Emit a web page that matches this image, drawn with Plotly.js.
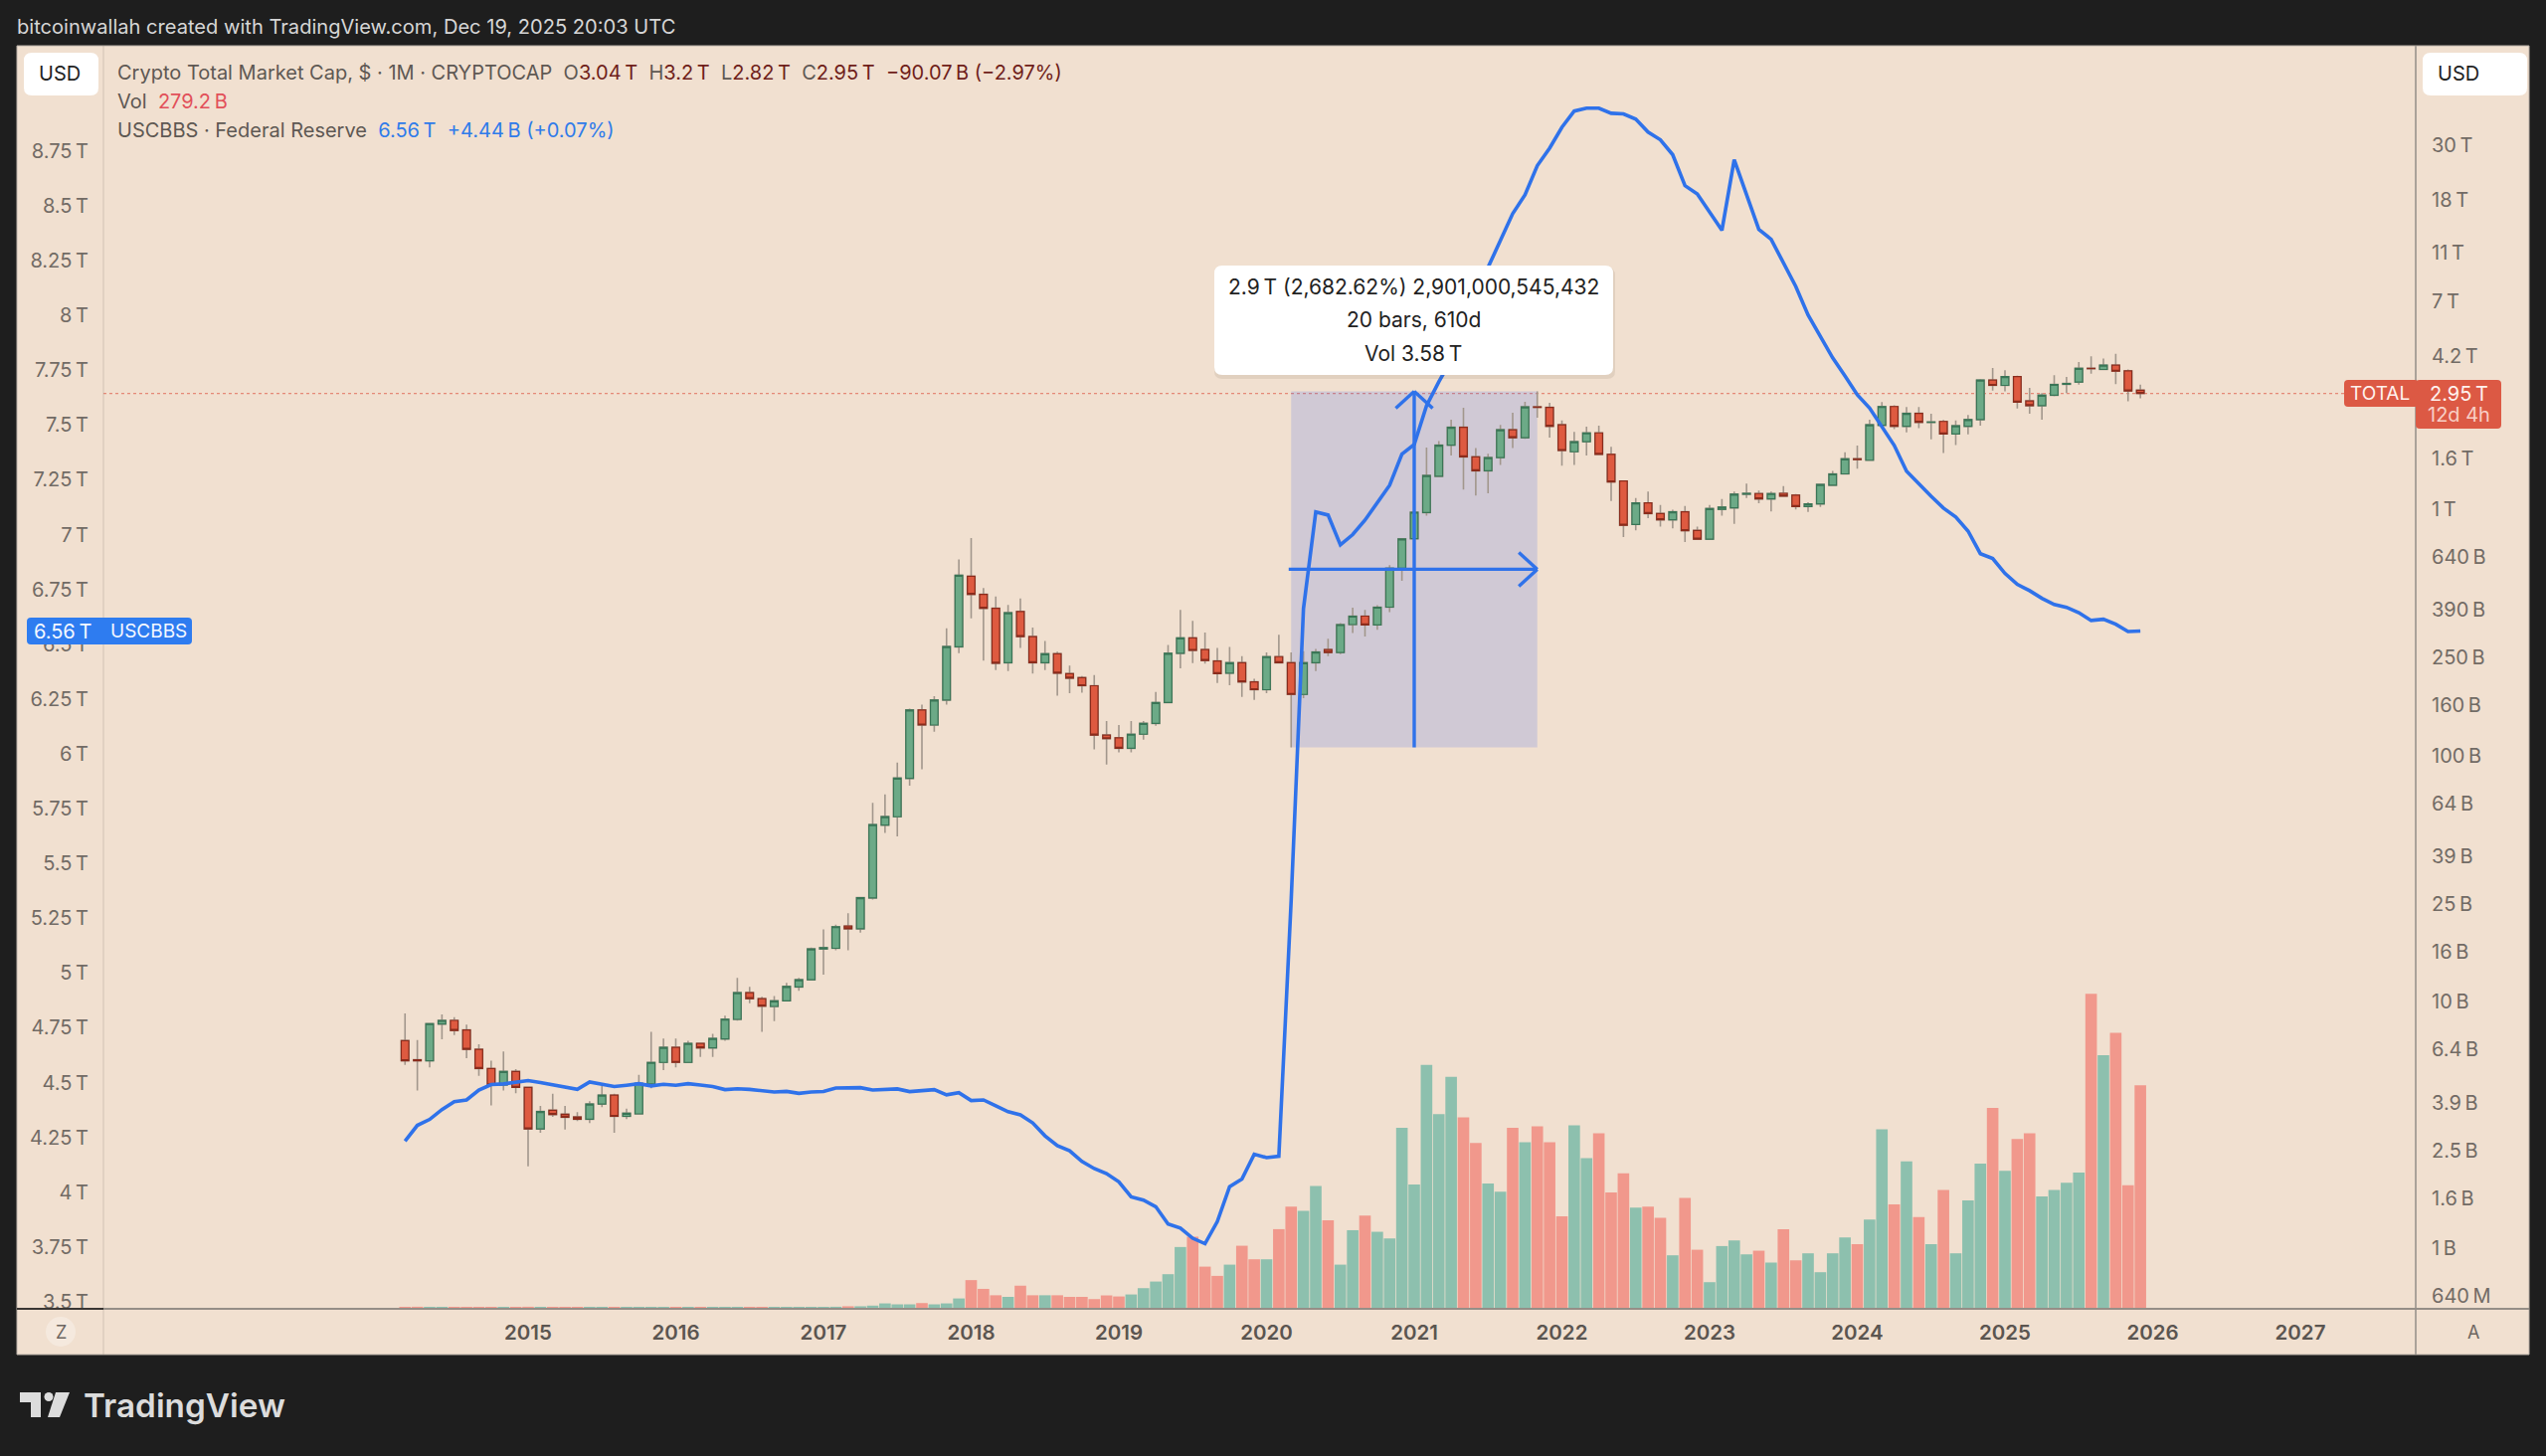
<!DOCTYPE html>
<html>
<head>
<meta charset="utf-8">
<script src="https://cdn.plot.ly/plotly-3.0.1.min.js"></script>
<style>html,body{margin:0;padding:0;background:#1e1e1e;}#chart{width:2560px;height:1464px;}</style>
</head>
<body>
<div id="chart"></div>
<script>
// Bars are monthly, first bar is Mar 2014. Bar index 0 = Jan 2015. Prices and volume in billions USD.
const firstBarIndex = -10;

const open = [6.96,5.82,5.77,8.13,8.41,7.69,6.42,5.36,4.6,5.22,
4.5,3.05,3.63,3.5,3.41,3.34,3.85,4.18,3.43,3.51,4.65,5.68,
6.54,5.68,6.78,6.5,7.07,8.49,10.9,10.3,9.58,10.1,11.5,12.3,
16.4,16.5,20.3,19.8,26.4,52.2,56.4,80.8,153,133,168,276,
534,451,396,238,384,304,238,259,215,207,192,121,
118,107,122,135,164,260,300,269,242,216,238,199,
185,252,238,177,238,269,262,340,368,339,400,576,
759,969,1360,1820,2150,1630,1430,1620,2100,1950,2600,2590,
2200,1710,1880,2040,1670,1300,867,1060,960,905,975,820,
755,997,1012,1150,1157,1100,1160,1140,1025,1050,1250,1390,
1600,1580,2190,2610,2170,2450,2250,2270,2020,2170,2310,3340,
3180,3450,2750,2630,2900,3210,3280,3730,3690,3840,3640,3040];

const high = [8.97,7.0,8.21,8.9,8.67,8.08,6.73,5.77,6.29,5.33,
4.5,3.78,4.24,3.78,3.57,3.95,4.57,4.24,3.69,5.05,7.55,7.1,
7.1,6.95,6.8,7.41,8.8,12.5,11.5,10.5,10.55,11.95,12.5,16.6,
19.7,20.6,22.9,26.7,64.2,69.5,93.7,155,161,174,328,625,
764,478,442,409,434,331,292,264,232,210,212,138,
133,138,138,181,281,390,352,316,273,276,253,205,
262,309,262,265,271,298,345,398,390,408,593,764,
980,1780,1890,2310,2580,1770,1680,2200,2460,2730,3009,2700,
2290,2060,2160,2180,1790,1310,1110,1180,1040,994,1030,850,
1040,1100,1180,1270,1190,1180,1240,1153,1067,1270,1430,1700,
1810,2310,2720,2640,2600,2600,2440,2300,2290,2410,3370,3740,
3660,3480,3110,2960,3500,3440,3960,4170,4090,4270,3690,3200];

const low = [5.55,4.37,5.42,7.05,7.34,5.91,5.01,3.8,4.37,4.26,
2.15,2.94,3.41,3.03,3.28,3.22,3.74,2.94,3.34,3.51,4.46,5.29,
5.42,5.65,5.98,5.98,6.95,8.39,9.88,7.55,8.36,10.07,11.1,12.25,
12.9,16.2,16.2,19.1,26,48.5,47,75.5,88,125,161,260,
360,243,222,220,273,215,222,175,179,180,106,92,
103,103,116,132,164,226,237,236,197,193,173,168,
179,237,108,171,220,253,258,314,304,324,382,512,
759,942,1355,1650,1200,1135,1160,1510,1770,1930,2350,1950,
1500,1510,1650,1665,1080,770,820,920,850,835,735,752,
752,942,872,1110,1057,978,1127,997,975,1020,1240,1385,
1460,1570,2185,2110,2050,2130,1920,1690,1820,2010,2180,3030,
3010,2560,2440,2310,2870,2960,3200,3550,3660,3220,2740,2820];

const close = [5.77,5.77,8.16,8.41,7.65,6.42,5.36,4.6,5.22,4.5,
3.05,3.59,3.49,3.4,3.34,3.85,4.18,3.43,3.53,4.67,5.68,6.54,
5.68,6.78,6.5,7.1,8.51,10.9,10.3,9.61,10.1,11.55,12.3,16.4,
16.6,20.2,19.8,26.5,52.4,56.5,81,153,133,168,277,539,
451,396,237,380,304,238,259,216,206,192,121,117,
107,122,135,164,260,300,267,243,215,238,199,185,
252,238,177,238,263,262,340,368,339,400,576,757,
972,1370,1820,2150,1630,1430,1620,2100,1950,2600,2590,2170,
1730,1880,2040,1670,1290,860,1060,960,905,975,818,755,
1006,1020,1150,1160,1100,1157,1130,1025,1050,1260,1390,1600,
1590,2200,2610,2170,2450,2250,2260,2020,2180,2310,3340,3180,
3450,2720,2630,2900,3210,3240,3730,3720,3840,3630,3020,2950];

const volume = [1.2,1.6,1.4,1.1,1.5,1.3,1.4,1.3,1.1,1.4,
1.6,1.2,1.1,1.0,1.0,1.1,1.0,1.4,1.2,1.3,1.4,1.3,
1.5,1.2,1.1,1.2,1.1,1.4,1.5,1.3,1.1,1.2,1.2,1.3,
1.5,1.6,2.2,2.2,3.0,5.8,4.6,4.6,6.2,4.6,5.8,12,
35,24,16,14,28,16,16,16,14,14,11.2,15.8,
14.5,17,24.9,33.2,42.4,76.5,89.3,51.9,40.3,54.4,78.1,61.1,
61.1,98.9,127,122,153,110,54.4,97.6,116,95.6,87.3,226,
155,305,243,290,239,207,156,146,226,208,228,208,
115,229,188,219,145,169,126,127,113,66.1,138,73.1,
32.4,77.7,84.8,67.3,71.9,57,98.9,59.8,68.6,44.9,68.6,88.5,
80.2,111,224,130,184,114,80.2,148,68.6,135,181,251,
172,212,219,140,148,157,170,394,317,345,154,279.2];

// Federal Reserve balance sheet (USCBBS), trillions USD
const fedBalance = [4.233,4.305,4.332,4.377,4.413,4.421,4.466,4.491,4.494,4.501,
4.509,4.500,4.491,4.479,4.469,4.503,4.492,4.482,4.488,4.495,4.485,4.492,
4.488,4.495,4.489,4.482,4.468,4.472,4.469,4.463,4.457,4.460,4.451,4.457,
4.459,4.475,4.475,4.477,4.466,4.469,4.471,4.459,4.462,4.468,4.444,4.454,
4.418,4.421,4.394,4.367,4.353,4.316,4.257,4.212,4.189,4.140,4.108,4.085,
4.047,3.979,3.964,3.934,3.855,3.836,3.790,3.765,3.866,4.025,4.060,4.173,
4.158,4.164,5.33,6.662,7.103,7.089,6.953,7.0,7.066,7.145,7.225,7.367,
7.411,7.588,7.697,7.797,7.934,8.078,8.219,8.343,8.464,8.55,8.683,8.763,
8.858,8.932,8.945,8.945,8.922,8.919,8.895,8.836,8.801,8.733,8.592,8.554,
8.473,8.388,8.71,8.554,8.392,8.347,8.237,8.132,8.002,7.906,7.806,7.724,
7.638,7.577,7.493,7.407,7.289,7.23,7.175,7.121,7.08,7.016,6.913,6.891,
6.823,6.773,6.744,6.709,6.681,6.668,6.644,6.608,6.614,6.591,6.558,6.56];

const yearTickIndex = [0,12,24,36,48,60,72,84,96,108,120,132,144];
const yearTickLabels = ['2015','2016','2017','2018','2019','2020','2021','2022','2023','2024','2025','2026','2027'];

const leftTickValues = [3.5,3.75,4,4.25,4.5,4.75,5,5.25,5.5,5.75,6,6.25,6.5,6.75,7,7.25,7.5,7.75,8,8.25,8.5,8.75];
const leftTickLabels = leftTickValues.map(v => String(v) + '\u2009T');

const rightTickValues = [30000,18000,11000,7000,4200,1600,1000,640,390,250,160,100,64,39,25,16,10,6.4,3.9,2.5,1.6,1,0.64];
const rightTickLabels = ['30\u2009T','18\u2009T','11\u2009T','7\u2009T','4.2\u2009T','1.6\u2009T','1\u2009T','640\u2009B','390\u2009B','250\u2009B','160\u2009B','100\u2009B','64\u2009B','39\u2009B','25\u2009B','16\u2009B','10\u2009B','6.4\u2009B','3.9\u2009B','2.5\u2009B','1.6\u2009B','1\u2009B','640\u2009M'];

// Measuring tool read-out
const measureStartIndex = 62, measureEndIndex = 82, measureLow = 108, measureHigh = 3009;
const lastClose = 2950;

const W = 2560, H = 1464, L = 104, R = 2429, T = 46, B = 1316;
const px = v => (v - L) / (R - L);
const py = v => 1 - (v - T) / (B - T);
const FONT = 'Inter, Roboto, sans-serif';
const BLUE = '#2f72ea', RED_TAG = '#dc5944', BG = '#f1e0d0', DARK = '#1e1e1e', AXTXT = '#726b65';

const xs = close.map((_, i) => firstBarIndex + i);
const bodyHigh = close.map((c, i) => Math.max(c, open[i]));
const bodyLow = close.map((c, i) => Math.min(c, open[i]));
const volColors = close.map((c, i) => c >= open[i] ? '#8dc0ae' : '#f1988c');

const traces = [
  {type:'bar', x:xs, y:volume, xaxis:'x', yaxis:'y', marker:{color:volColors, line:{width:0}}, hoverinfo:'skip'},
  {type:'candlestick', x:xs, open:open, high:high, low:low, close:close, xaxis:'x', yaxis:'y2', whiskerwidth:0,
   increasing:{line:{color:'#a2978c', width:1.6}, fillcolor:'#6caa87'},
   decreasing:{line:{color:'#a2978c', width:1.6}, fillcolor:'#de5a40'}, hoverinfo:'skip'},
  {type:'candlestick', x:xs, open:open, high:bodyHigh, low:bodyLow, close:close, xaxis:'x', yaxis:'y2', whiskerwidth:0,
   increasing:{line:{color:'#3a7556', width:1.2}, fillcolor:'#6caa87'},
   decreasing:{line:{color:'#8a2c1c', width:1.2}, fillcolor:'#de5a40'}, hoverinfo:'skip'},
  {type:'scatter', mode:'lines', x:xs, y:fedBalance, xaxis:'x', yaxis:'y3', line:{color:BLUE, width:3.6}, hoverinfo:'skip'}
];

// --- static page furniture, given in page pixels ---
function pxRect(x0, y0, x1, y1, opts) {
  return Object.assign({type:'rect', xref:'paper', yref:'paper', x0:px(x0), x1:px(x1), y0:py(y0), y1:py(y1), line:{width:0}}, opts);
}
function pxLine(x0, y0, x1, y1, color, width, layer) {
  return {type:'line', xref:'paper', yref:'paper', x0:px(x0), x1:px(x1), y0:py(y0), y1:py(y1), line:{color:color, width:width}, layer:layer || 'above'};
}
function rounded(x0, y0, x1, y1, r, fill, layer) {
  const X = px, Y = py;
  const d = `M${X(x0+r)},${Y(y0)} L${X(x1-r)},${Y(y0)} Q${X(x1)},${Y(y0)} ${X(x1)},${Y(y0+r)} L${X(x1)},${Y(y1-r)} Q${X(x1)},${Y(y1)} ${X(x1-r)},${Y(y1)} L${X(x0+r)},${Y(y1)} Q${X(x0)},${Y(y1)} ${X(x0)},${Y(y1-r)} L${X(x0)},${Y(y0+r)} Q${X(x0)},${Y(y0)} ${X(x0+r)},${Y(y0)} Z`;
  return {type:'path', xref:'paper', yref:'paper', path:d, fillcolor:fill, line:{width:0}, layer:layer || 'above'};
}
function poly(points, fill) {
  const d = points.map((p, i) => (i ? 'L' : 'M') + px(p[0]) + ',' + py(p[1])).join(' ') + ' Z';
  return {type:'path', xref:'paper', yref:'paper', path:d, fillcolor:fill, line:{width:0}, layer:'above'};
}
function dataLine(x0, y0, x1, y1) {
  return {type:'line', xref:'x', yref:'y2', x0:x0, x1:x1, y0:y0, y1:y1, line:{color:BLUE, width:3.4}, layer:'above'};
}

const measureMid = Math.sqrt(measureLow * measureHigh);
const barbRatio = 1.171, barbX = 1.5;
const midIndex = (measureStartIndex + measureEndIndex) / 2;

const shapes = [
  pxRect(17, 46, 2543, 1362, {fillcolor:BG, layer:'below', line:{color:'#b9b0a7', width:1}}),
  {type:'rect', xref:'x', yref:'y2', x0:measureStartIndex, x1:measureEndIndex, y0:measureLow, y1:measureHigh,
   fillcolor:'rgba(50,90,240,0.17)', line:{width:0}, layer:'below'},
  {type:'line', xref:'paper', yref:'y2', x0:0, x1:px(2357), y0:lastClose, y1:lastClose,
   line:{color:'rgba(222,90,70,0.65)', width:1.2, dash:'dot'}, layer:'below'},
  pxLine(L, 46, L, 1362, 'rgba(150,138,126,0.35)', 1),
  pxLine(R, 46, R, 1362, '#aaa29a', 2),
  pxLine(17, B, L, B, '#3a3633', 2),
  pxLine(L, B, 2543, B, '#958e87', 2),
  // measuring tool arrows
  dataLine(measureStartIndex - 0.2, measureMid, measureEndIndex, measureMid),
  dataLine(measureEndIndex - barbX, measureMid * barbRatio, measureEndIndex, measureMid),
  dataLine(measureEndIndex - barbX, measureMid / barbRatio, measureEndIndex, measureMid),
  dataLine(midIndex, measureLow, midIndex, measureHigh),
  dataLine(midIndex - barbX, measureHigh / barbRatio, midIndex, measureHigh),
  dataLine(midIndex + barbX, measureHigh / barbRatio, midIndex, measureHigh),
  // tooltip
  rounded(1221, 269, 1624, 381, 8, 'rgba(90,70,50,0.10)'),
  rounded(1221, 267, 1622, 377, 8, '#ffffff'),
  // USD buttons
  rounded(24, 53, 99, 96, 8, '#ffffff'),
  rounded(2436, 53, 2541, 96, 8, '#ffffff'),
  // Z / A buttons
  {type:'circle', xref:'paper', yref:'paper', x0:px(46), x1:px(76), y0:py(1324), y1:py(1354), fillcolor:'rgba(255,255,255,0.3)', line:{width:0}, layer:'above'},
  // price tags
  rounded(27, 621, 193, 648, 4, '#2e7cf0'),
  rounded(2357, 382, 2432, 409, 4, RED_TAG),
  rounded(2429, 382, 2515, 431, 4, RED_TAG),
  // TradingView mark
  poly([[20,1400],[41,1400],[41,1425],[31,1425],[31,1410],[20,1410]], '#dcdcdc'),
  {type:'circle', xref:'paper', yref:'paper', x0:px(44.5), x1:px(53.5), y0:py(1400), y1:py(1409), fillcolor:'#dcdcdc', line:{width:0}, layer:'above'},
  poly([[56,1400],[70,1400],[60,1425],[48,1425]], '#dcdcdc')
];

function note(text, x, y, size, color, anchor, extra) {
  return Object.assign({text:text, xref:'paper', yref:'paper', x:px(x), y:py(y), showarrow:false,
    xanchor:anchor || 'left', yanchor:'middle', align:anchor || 'left',
    font:{family:FONT, size:size, color:color}, borderpad:0, borderwidth:0}, extra || {});
}
const grey = '#5e5853', maroon = '#6f1e1a', hiBlue = '#2f7bea';
const span = (c, t) => `<span style="color:${c}">${t}</span>`;

const annotations = [
  note('bitcoinwallah created with TradingView.com, Dec 19, 2025 20:03 UTC', 17, 27, 20.1, '#d6d6d6'),
  note(span(grey, 'Crypto Total Market Cap, $ · 1M · CRYPTOCAP') + '&nbsp;&nbsp;' +
       span(grey,'O') + span(maroon,'3.04\u2009T') + '&nbsp;&nbsp;' +
       span(grey,'H') + span(maroon,'3.2\u2009T') + '&nbsp;&nbsp;' +
       span(grey,'L') + span(maroon,'2.82\u2009T') + '&nbsp;&nbsp;' +
       span(grey,'C') + span(maroon,'2.95\u2009T') + '&nbsp;&nbsp;' +
       span(maroon,'\u221290.07\u2009B (\u22122.97%)'), 118, 73, 20, grey),
  note(span(grey,'Vol') + '&nbsp;&nbsp;' + span('#e2505a','279.2\u2009B'), 118, 102, 20, grey),
  note(span(grey,'USCBBS · Federal Reserve') + '&nbsp;&nbsp;' + span(hiBlue,'6.56\u2009T') + '&nbsp;&nbsp;' + span(hiBlue,'+4.44\u2009B (+0.07%)'), 118, 131, 20, grey),
  note('USD', 60, 74, 20, '#222222', 'center'),
  note('USD', 2472, 74, 20, '#222222', 'center'),
  note('Z', 61, 1339, 18, '#6d6661', 'center'),
  note('A', 2487, 1339, 18, '#6d6661', 'center'),
  note('2.9\u2009T (2,682.62%) 2,901,000,545,432', 1421, 288, 21, '#222222', 'center'),
  note('20 bars, 610d', 1421, 322, 21, '#222222', 'center'),
  note('Vol 3.58\u2009T', 1421, 355, 21, '#222222', 'center'),
  note('6.56\u2009T', 34, 634.5, 20, '#f4f8ff'),
  note('USCBBS', 111, 634.5, 19, '#f4f8ff'),
  note('TOTAL', 2393, 396, 19, '#fff2ee', 'center'),
  note('2.95\u2009T', 2472, 396, 20, '#fff2ee', 'center'),
  note('12d 4h', 2472, 417, 20, '#f8cfc6', 'center'),
  note('TradingView', 84, 1413, 33.3, '#dcdcdc', 'left', {font:{family:FONT, size:33.3, color:'#dcdcdc', weight:600}})
];

const layout = {
  width:W, height:H, autosize:false,
  margin:{l:L, r:W-R, t:T, b:H-B, pad:0},
  paper_bgcolor:DARK, plot_bgcolor:'rgba(0,0,0,0)',
  showlegend:false, hovermode:false, dragmode:false,
  bargap:0.06, boxgap:0.12, boxmode:'overlay',
  xaxis:{type:'linear', range:[(L-531)/12.375, (R-531)/12.375], showgrid:false, zeroline:false, showline:false,
         tickmode:'array', tickvals:yearTickIndex, ticktext:yearTickLabels, ticks:'', ticklabelstandoff:9,
         tickfont:{family:FONT, size:20.5, color:'#5b5550', weight:600}, rangeslider:{visible:false}, fixedrange:true},
  yaxis:{visible:false, range:[-1, 1583], fixedrange:true, showgrid:false, zeroline:false},
  yaxis2:{type:'log', overlaying:'y', side:'right', range:[-0.2459, 4.881], showgrid:false, zeroline:false, showline:false,
          tickmode:'array', tickvals:rightTickValues, ticktext:rightTickLabels, ticks:'', ticklabelstandoff:15,
          tickfont:{family:FONT, size:20, color:AXTXT}, fixedrange:true},
  yaxis3:{type:'linear', overlaying:'y', side:'left', range:[3.468, 9.23], showgrid:false, zeroline:false, showline:false,
          tickmode:'array', tickvals:leftTickValues, ticktext:leftTickLabels, ticks:'', ticklabelstandoff:14,
          tickfont:{family:FONT, size:20, color:AXTXT}, fixedrange:true},
  shapes:shapes, annotations:annotations
};

Plotly.newPlot('chart', traces, layout, {displayModeBar:false, responsive:false});
</script>
</body>
</html>
